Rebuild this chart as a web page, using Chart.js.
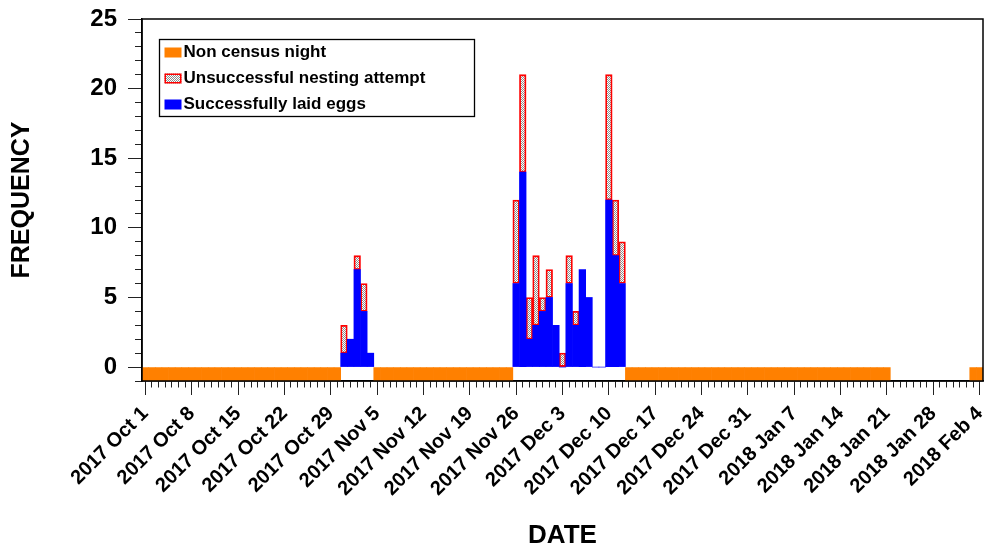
<!DOCTYPE html>
<html lang="en">
<head>
<meta charset="UTF-8">
<title>Nesting frequency by date</title>
<script src="https://cdn.jsdelivr.net/npm/chart.js"></script>
<style>
  body { margin: 0; background: #fff; }
  #wrap { width: 992px; height: 552px; }
</style>
</head>
<body>
<div id="wrap"><canvas id="nestChart"></canvas></div>
<script>
// weekly tick labels (one every 7 days, starting on the first day)
const weekLabels = [
  '2017 Oct 1', '2017 Oct 8', '2017 Oct 15', '2017 Oct 22', '2017 Oct 29',
  '2017 Nov 5', '2017 Nov 12', '2017 Nov 19', '2017 Nov 26',
  '2017 Dec 3', '2017 Dec 10', '2017 Dec 17', '2017 Dec 24', '2017 Dec 31',
  '2018 Jan 7', '2018 Jan 14', '2018 Jan 21', '2018 Jan 28', '2018 Feb 4'
];

// census nights with nesting activity
const nestDates = [
  '2017-10-31', '2017-11-01', '2017-11-02', '2017-11-03', '2017-11-04',
  '2017-11-26', '2017-11-27', '2017-11-28', '2017-11-29', '2017-11-30',
  '2017-12-01', '2017-12-02', '2017-12-03', '2017-12-04', '2017-12-05',
  '2017-12-06', '2017-12-07', '2017-12-08', '2017-12-09', '2017-12-10',
  '2017-12-11', '2017-12-12'
];
const laidEggs     = [1, 2, 7, 4, 1,  6, 14, 2, 3, 4, 5, 3, 0, 6, 3, 7, 5, 0, 0, 12, 8, 6];
const unsuccessful = [2, 0, 1, 2, 0,  6,  7, 3, 5, 1, 2, 0, 1, 2, 1, 0, 0, 0, 0,  9, 4, 3];

// nights with no census (drawn as a -1 bar below the axis)
const nonCensusSpans = [
  ['2017-10-01', '2017-10-30'],
  ['2017-11-05', '2017-11-25'],
  ['2017-12-13', '2018-01-21'],
  ['2018-02-03', '2018-02-04']
];

const firstDay = Date.UTC(2017, 9, 1);
const dayCount = 127;
const days = [];
for (let i = 0; i < dayCount; i++) {
  days.push(new Date(firstDay + i * 86400000).toISOString().slice(0, 10));
}

function seriesFor(values) {
  return days.map(d => {
    const k = nestDates.indexOf(d);
    return k < 0 ? null : values[k];
  });
}
const nonCensus = days.map(d =>
  nonCensusSpans.some(([a, b]) => d >= a && d <= b) ? -1 : null);

const ctx = document.getElementById('nestChart').getContext('2d');

// light grey checker fill for the unsuccessful attempts
const tile = document.createElement('canvas');
tile.width = 2; tile.height = 2;
const tctx = tile.getContext('2d');
tctx.fillStyle = '#ffffff';
tctx.fillRect(0, 0, 2, 2);
tctx.fillStyle = '#8e8e8e';
tctx.fillRect(0, 0, 1, 1);
tctx.fillRect(1, 1, 1, 1);
const hatch = ctx.createPattern(tile, 'repeat');

const FONT = '"Liberation Sans", Arial, sans-serif';
Chart.defaults.font.family = FONT;
Chart.defaults.color = '#000';

const legendOrder = [0, 2, 1];

const boxLegend = {
  id: 'boxLegend',
  afterDraw(chart) {
    const c = chart.ctx;
    const area = chart.chartArea;
    const x0 = area.left + 17.5, y0 = area.top + 20.5;
    c.save();
    c.strokeStyle = '#000';
    c.lineWidth = 1.3;
    c.strokeRect(x0, y0, 315, 77);
    c.font = 'bold 17px ' + FONT;
    c.textBaseline = 'middle';
    c.textAlign = 'left';
    legendOrder.forEach((di, row) => {
      const ds = chart.data.datasets[di];
      const cy = y0 + 13 + row * 26;
      c.fillStyle = ds.backgroundColor;
      c.fillRect(x0 + 5, cy - 5, 17, 10);
      if (ds.borderWidth) {
        c.strokeStyle = ds.borderColor;
        c.lineWidth = 1.5;
        c.strokeRect(x0 + 5.75, cy - 4.25, 15.5, 8.5);
      }
      c.fillStyle = '#000';
      c.fillText(ds.label, x0 + 24, cy);
    });
    c.restore();
  }
};

const frame = {
  id: 'frame',
  afterDraw(chart) {
    const a = chart.chartArea;
    const c = chart.ctx;
    c.save();
    c.strokeStyle = '#000';
    c.lineWidth = 1.5;
    c.strokeRect(a.left, a.top, a.right - a.left, a.bottom - a.top);
    c.restore();
  }
};

new Chart(ctx, {
  type: 'bar',
  data: {
    labels: days,
    datasets: [
      {
        label: 'Non census night',
        data: nonCensus,
        backgroundColor: '#ff8000',
        borderWidth: 0
      },
      {
        label: 'Successfully laid eggs',
        data: seriesFor(laidEggs),
        backgroundColor: '#0000ff',
        borderWidth: 0
      },
      {
        label: 'Unsuccessful nesting attempt',
        data: seriesFor(unsuccessful),
        backgroundColor: hatch,
        borderColor: '#ff0000',
        borderWidth: 1.8,
        borderSkipped: false
      }
    ]
  },
  options: {
    responsive: true,
    maintainAspectRatio: false,
    animation: false,
    layout: { padding: { top: 19, right: 9, left: 0, bottom: 0 } },
    datasets: { bar: { barPercentage: 1, categoryPercentage: 1 } },
    plugins: {
      legend: { display: false },
      tooltip: { enabled: false }
    },
    scales: {
      x: {
        stacked: true,
        offset: true,
        grid: {
          offset: false,
          drawOnChartArea: false,
          tickLength: 14,
          tickColor: '#222',
          tickWidth: 1,
          tickBorderDash: c => (c.index % 7 === 0 ? [] : [6, 100])
        },
        border: { color: '#000', width: 1.5 },
        ticks: {
          autoSkip: false,
          minRotation: 45,
          maxRotation: 45,
          padding: 7,
          font: { size: 20, weight: 'bold' },
          callback: (v, i) => (i % 7 === 0 ? weekLabels[i / 7] : '')
        },
        title: {
          display: true,
          text: 'DATE',
          font: { size: 26, weight: 'bold' },
          padding: { top: 0, bottom: 1 }
        },
        afterFit: s => {
          s.height = 171;
          s.paddingLeft = 0;
          s.paddingRight = 0;
        }
      },
      y: {
        stacked: true,
        min: -1,
        max: 25,
        grid: {
          drawOnChartArea: false,
          tickLength: 14,
          tickColor: '#222',
          tickWidth: 1,
          tickBorderDash: c => (c.tick && c.tick.value % 5 === 0 ? [] : [7, 100]),
          tickBorderDashOffset: c => (c.tick && c.tick.value % 5 === 0 ? 0 : 100)
        },
        border: { color: '#000', width: 1.5 },
        ticks: {
          stepSize: 1,
          autoSkip: false,
          padding: 11,
          font: { size: 24, weight: 'bold' },
          callback: v => (v >= 0 && v % 5 === 0 ? String(v) : '')
        },
        title: {
          display: true,
          text: 'FREQUENCY',
          font: { size: 25, weight: 'bold' },
          padding: { top: 7, bottom: 0 }
        },
        afterFit: s => {
          s.width = 142;
          s.paddingTop = 0;
          s.paddingBottom = 0;
        }
      }
    }
  },
  plugins: [boxLegend, frame]
});
</script>
</body>
</html>
